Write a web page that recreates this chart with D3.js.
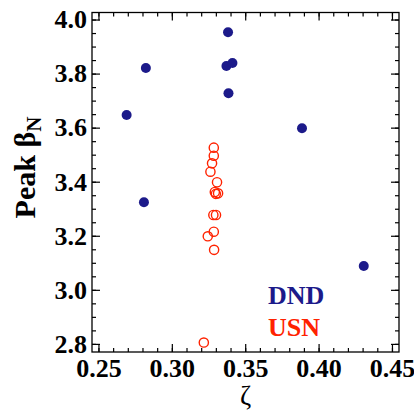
<!DOCTYPE html>
<html>
<head>
<meta charset="utf-8">
<script src="https://cdn.jsdelivr.net/npm/d3@7"></script>
<style>
  body { margin: 0; background: #fff; }
  text { font-family: "Liberation Serif", "Times New Roman", serif; }
</style>
</head>
<body>
<script>
// data
var dndZeta = [0.2692, 0.2823, 0.3383, 0.3372, 0.3413, 0.3386, 0.3887, 0.2810, 0.4308];
var dndBeta = [3.647, 3.821, 3.953, 3.828, 3.839, 3.727, 3.598, 3.324, 3.088];

var usnZeta = [0.3286, 0.3286, 0.3274, 0.3263, 0.3308, 0.3293, 0.3315, 0.3300,
               0.3283, 0.3301, 0.3286, 0.3245, 0.3288, 0.3218];
var usnBeta = [3.526, 3.496, 3.468, 3.437, 3.398, 3.362, 3.357, 3.355,
               3.277, 3.277, 3.215, 3.198, 3.148, 2.805];

var xTicks = [0.25, 0.30, 0.35, 0.40, 0.45];
var yTicks = [2.8, 3.0, 3.2, 3.4, 3.6, 3.8, 4.0];
var xMinor = d3.range(0.25, 0.4501, 0.01);
var yMinor = d3.range(2.8, 4.0001, 0.05);

var legendNames = ["DND", "USN"];

var navy = "#1c1a8a", red = "#ff2200";

// frame
var margin = {top: 12.5, right: 15, bottom: 63, left: 92},
    width = 414 - margin.left - margin.right,
    height = 415 - margin.top - margin.bottom;

var x = d3.scaleLinear().domain([0.2456, 0.4548]).range([0, width]);
var y = d3.scaleLinear().domain([2.770, 4.026]).range([height, 0]);

var svg = d3.select("body").append("svg")
    .attr("width", 414)
    .attr("height", 415)
  .append("g")
    .attr("transform", "translate(" + margin.left + "," + margin.top + ")");

function styleAxis(g) {
  g.select(".domain").remove();
  g.selectAll("line").attr("stroke", "#000").attr("stroke-width", 1.2);
  g.selectAll("text")
    .style("font-size", "26px")
    .style("font-weight", "bold")
    .attr("fill", "#000");
}

// minor ticks on all four sides
svg.append("g").attr("transform", "translate(0," + height + ")")
    .call(d3.axisBottom(x).tickValues(xMinor).tickSize(-4).tickFormat("")).call(styleAxis);
svg.append("g")
    .call(d3.axisTop(x).tickValues(xMinor).tickSize(-4).tickFormat("")).call(styleAxis);
svg.append("g")
    .call(d3.axisLeft(y).tickValues(yMinor).tickSize(-4).tickFormat("")).call(styleAxis);
svg.append("g").attr("transform", "translate(" + width + ",0)")
    .call(d3.axisRight(y).tickValues(yMinor).tickSize(-4).tickFormat("")).call(styleAxis);

// major ticks
svg.append("g").attr("transform", "translate(0," + height + ")")
    .call(d3.axisBottom(x).tickValues(xTicks).tickSize(-8).tickPadding(7)
      .tickFormat(d3.format(".2f"))).call(styleAxis);
svg.append("g")
    .call(d3.axisTop(x).tickValues(xTicks).tickSize(-8).tickFormat("")).call(styleAxis);
svg.append("g")
    .call(d3.axisLeft(y).tickValues(yTicks).tickSize(-8).tickPadding(5)
      .tickFormat(d3.format(".1f"))).call(styleAxis);
svg.append("g").attr("transform", "translate(" + width + ",0)")
    .call(d3.axisRight(y).tickValues(yTicks).tickSize(-8).tickFormat("")).call(styleAxis);

// frame box
svg.append("rect")
    .attr("width", width)
    .attr("height", height)
    .attr("fill", "none")
    .attr("stroke", "#000")
    .attr("stroke-width", 1.3);

// DND: filled
svg.selectAll(".dnd")
    .data(d3.range(dndZeta.length))
  .enter().append("circle")
    .attr("class", "dnd")
    .attr("cx", function(i) { return x(dndZeta[i]); })
    .attr("cy", function(i) { return y(dndBeta[i]); })
    .attr("r", 5)
    .attr("fill", navy);

// USN: open
svg.selectAll(".usn")
    .data(d3.range(usnZeta.length))
  .enter().append("circle")
    .attr("class", "usn")
    .attr("cx", function(i) { return x(usnZeta[i]); })
    .attr("cy", function(i) { return y(usnBeta[i]); })
    .attr("r", 4.6)
    .attr("fill", "none")
    .attr("stroke", red)
    .attr("stroke-width", 1.4);

// legend
svg.selectAll(".legend")
    .data(legendNames)
  .enter().append("text")
    .attr("x", 176)
    .attr("y", function(d, i) { return 291 + i * 32; })
    .attr("fill", function(d, i) { return i === 0 ? navy : red; })
    .style("font-size", "26px")
    .style("font-weight", "bold")
    .text(function(d) { return d; });

// axis titles
svg.append("text")
    .attr("x", width / 2)
    .attr("y", height + 53)
    .attr("text-anchor", "middle")
    .style("font-size", "27px")
    .text("ζ");

var yt = svg.append("text")
    .attr("transform", "translate(-57," + 155 + ") rotate(-90)")
    .attr("text-anchor", "middle")
    .style("font-size", "30px")
    .style("font-weight", "bold");
yt.append("tspan").text("Peak β");
yt.append("tspan").attr("dy", 6).style("font-size", "21px").text("N");
</script>
</body>
</html>
